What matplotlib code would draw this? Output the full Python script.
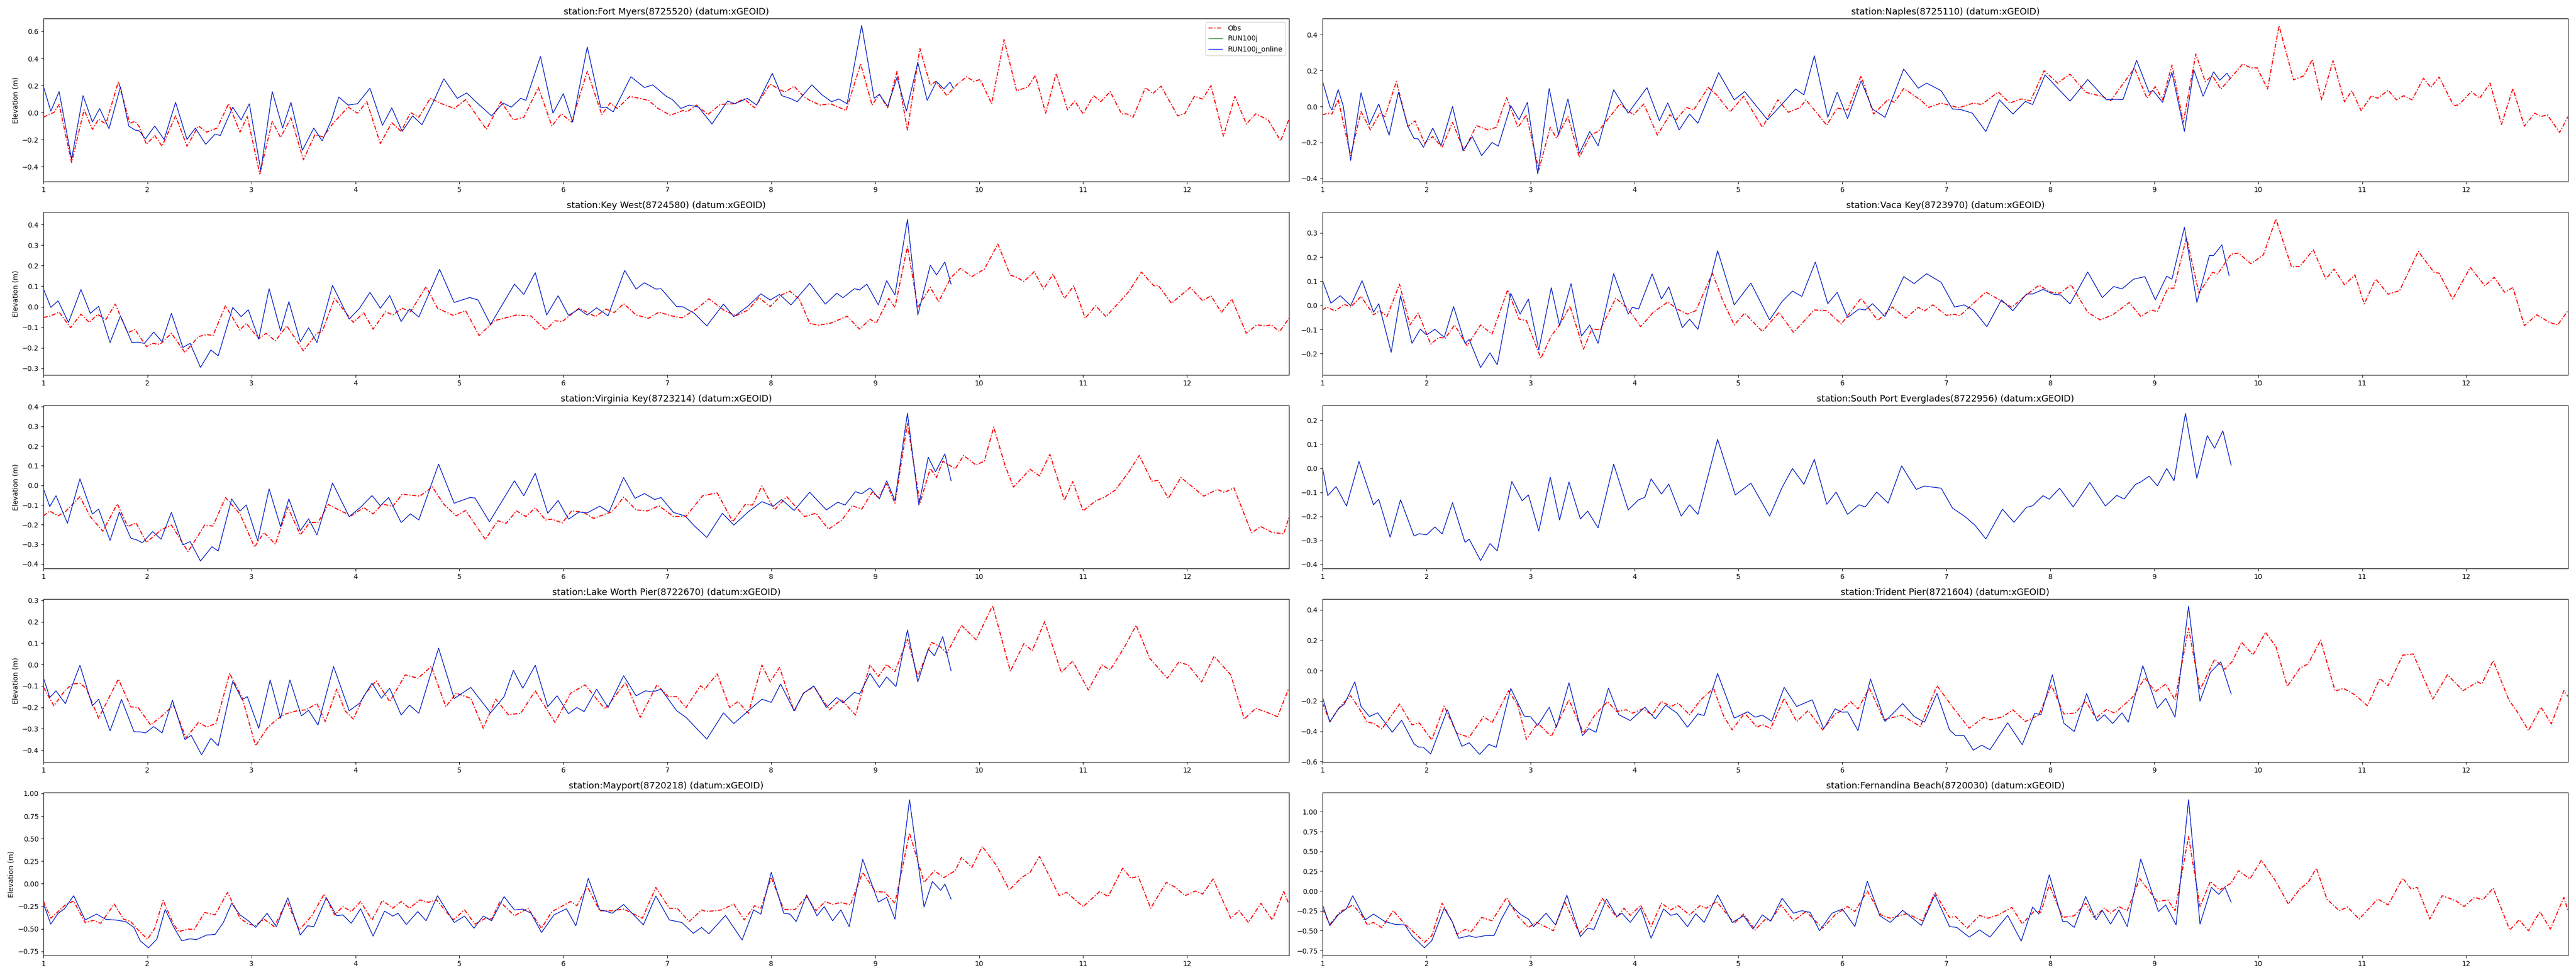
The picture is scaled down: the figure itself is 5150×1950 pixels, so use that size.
import matplotlib
matplotlib.use("Agg")
import matplotlib.pyplot as plt
from matplotlib.ticker import MultipleLocator

# water level, (day, elevation m) turning points
fort_myers_obs = [(1.0,-0.035),(1.05,-0.015),(1.10,0.0),(1.15,0.06),(1.27,-0.37),(1.39,0.02),(1.47,-0.125),(1.53,-0.05),(1.60,-0.085),(1.72,0.23),(1.83,-0.08),(1.88,-0.065),(1.92,-0.105),(1.99,-0.235),(2.07,-0.17),(2.14,-0.25),(2.27,-0.025),(2.38,-0.25),(2.49,-0.10),(2.57,-0.145),(2.67,-0.115),(2.78,0.065),(2.89,-0.145),(2.96,-0.03),(3.08,-0.455),(3.20,-0.065),(3.28,-0.185),(3.38,-0.04),(3.50,-0.35),(3.61,-0.165),(3.69,-0.18),(3.79,-0.075),(3.93,0.04),(4.02,-0.005),(4.11,0.08),(4.24,-0.23),(4.35,-0.075),(4.44,-0.14),(4.53,0.0),(4.61,-0.035),(4.72,0.105),(4.83,0.065),(4.95,0.03),(5.06,0.095),(5.26,-0.125),(5.40,0.08),(5.52,-0.055),(5.62,-0.035),(5.76,0.185),(5.89,-0.10),(5.98,-0.01),(6.08,-0.07),(6.23,0.305),(6.37,-0.015),(6.45,0.07),(6.52,0.03),(6.64,0.12),(6.76,0.10),(6.82,0.09),(6.91,0.03),(7.03,-0.02),(7.15,0.015),(7.19,0.005),(7.28,0.055),(7.39,-0.015),(7.51,0.06),(7.63,0.065),(7.74,0.10),(7.84,0.035),(7.99,0.21),(8.13,0.15),(8.22,0.195),(8.31,0.12),(8.37,0.09),(8.47,0.055),(8.57,0.065),(8.72,0.015),(8.86,0.36),(8.97,0.055),(9.04,0.135),(9.12,0.035),(9.21,0.305),(9.31,-0.13),(9.43,0.475),(9.53,0.20),(9.58,0.23),(9.69,0.125),(9.79,0.21),(9.88,0.265),(9.95,0.23),(10.01,0.245),(10.12,0.065),(10.24,0.54),(10.36,0.16),(10.47,0.19),(10.54,0.275),(10.64,-0.005),(10.74,0.29),(10.85,0.02),(10.92,0.085),(11.00,-0.01),(11.10,0.125),(11.17,0.08),(11.26,0.155),(11.37,-0.01),(11.42,-0.01),(11.48,-0.035),(11.60,0.185),(11.67,0.14),(11.75,0.195),(11.91,-0.025),(11.98,-0.005),(12.07,0.12),(12.15,0.10),(12.23,0.20),(12.35,-0.175),(12.46,0.12),(12.57,-0.085),(12.66,-0.01),(12.78,-0.055),(12.90,-0.21),(12.98,-0.05)]
fort_myers_run = [(1.0,0.19),(1.07,0.01),(1.15,0.155),(1.27,-0.345),(1.38,0.125),(1.47,-0.07),(1.54,0.03),(1.63,-0.12),(1.74,0.19),(1.82,-0.10),(1.88,-0.13),(1.92,-0.135),(1.98,-0.195),(2.07,-0.10),(2.16,-0.20),(2.27,0.075),(2.38,-0.20),(2.46,-0.115),(2.56,-0.235),(2.65,-0.16),(2.70,-0.17),(2.82,0.04),(2.90,-0.055),(2.98,0.065),(3.09,-0.43),(3.20,0.155),(3.30,-0.115),(3.38,0.075),(3.49,-0.28),(3.60,-0.115),(3.68,-0.21),(3.77,-0.055),(3.84,0.115),(3.93,0.055),(4.02,0.065),(4.14,0.18),(4.26,-0.095),(4.35,0.035),(4.45,-0.14),(4.55,-0.025),(4.64,-0.09),(4.76,0.095),(4.85,0.25),(4.98,0.105),(5.07,0.145),(5.18,0.065),(5.31,-0.025),(5.42,0.07),(5.50,0.04),(5.59,0.105),(5.64,0.09),(5.78,0.415),(5.90,-0.005),(6.00,0.14),(6.09,-0.07),(6.23,0.485),(6.36,0.035),(6.41,0.04),(6.48,0.005),(6.65,0.265),(6.78,0.185),(6.86,0.205),(6.99,0.12),(7.05,0.095),(7.13,0.03),(7.21,0.055),(7.30,0.04),(7.43,-0.085),(7.58,0.085),(7.65,0.065),(7.77,0.105),(7.86,0.055),(8.01,0.29),(8.10,0.125),(8.18,0.105),(8.25,0.08),(8.39,0.205),(8.49,0.13),(8.58,0.08),(8.65,0.10),(8.73,0.065),(8.87,0.645),(8.99,0.105),(9.04,0.135),(9.12,0.045),(9.21,0.26),(9.30,0.01),(9.41,0.37),(9.50,0.09),(9.59,0.23),(9.66,0.175),(9.72,0.225),(9.75,0.18)]

naples_obs = [(1.0,-0.046),(1.05,-0.037),(1.09,-0.042),(1.15,0.039),(1.27,-0.273),(1.37,-0.028),(1.46,-0.13),(1.55,-0.037),(1.60,-0.056),(1.71,0.139),(1.82,-0.111),(1.89,-0.08),(1.98,-0.204),(2.06,-0.167),(2.15,-0.227),(2.25,-0.088),(2.36,-0.245),(2.48,-0.106),(2.59,-0.13),(2.67,-0.116),(2.77,0.049),(2.88,-0.116),(2.96,-0.046),(3.08,-0.352),(3.19,-0.116),(3.25,-0.176),(3.36,-0.056),(3.47,-0.282),(3.58,-0.156),(3.65,-0.139),(3.86,0.014),(3.99,-0.046),(4.09,0.014),(4.22,-0.159),(4.34,-0.046),(4.40,-0.074),(4.50,-0.005),(4.57,-0.019),(4.71,0.106),(4.79,0.065),(4.92,-0.03),(5.05,0.057),(5.23,-0.116),(5.38,0.037),(5.48,-0.032),(5.59,-0.007),(5.65,0.037),(5.85,-0.104),(5.95,-0.009),(6.05,-0.019),(6.18,0.171),(6.30,-0.042),(6.44,0.039),(6.50,0.023),(6.59,0.10),(6.75,0.037),(6.83,-0.005),(6.95,0.019),(7.12,-0.007),(7.26,0.019),(7.34,0.011),(7.50,0.081),(7.61,0.019),(7.72,0.042),(7.81,0.032),(7.94,0.199),(8.07,0.13),(8.19,0.18),(8.34,0.079),(8.50,0.056),(8.58,0.032),(8.81,0.213),(8.93,0.046),(9.01,0.111),(9.08,0.037),(9.17,0.231),(9.28,-0.088),(9.40,0.292),(9.49,0.139),(9.56,0.171),(9.64,0.097),(9.72,0.148),(9.85,0.236),(9.93,0.215),(9.99,0.215),(10.09,0.097),(10.20,0.449),(10.34,0.148),(10.44,0.171),(10.52,0.261),(10.61,0.037),(10.72,0.255),(10.83,0.026),(10.90,0.088),(10.99,-0.023),(11.09,0.06),(11.15,0.046),(11.25,0.09),(11.33,0.037),(11.40,0.06),(11.48,0.037),(11.59,0.157),(11.66,0.106),(11.74,0.164),(11.88,0.005),(11.93,0.009),(12.05,0.083),(12.13,0.046),(12.23,0.13),(12.34,-0.10),(12.45,0.10),(12.56,-0.109),(12.66,-0.037),(12.72,-0.056),(12.78,-0.046),(12.90,-0.144),(12.98,-0.056)]
naples_run = [(1.0,0.139),(1.07,0.0),(1.09,-0.019),(1.15,0.094),(1.20,0.0),(1.27,-0.30),(1.37,0.076),(1.45,-0.10),(1.54,0.014),(1.64,-0.16),(1.73,0.08),(1.82,-0.11),(1.88,-0.178),(1.92,-0.18),(1.97,-0.227),(2.06,-0.12),(2.14,-0.218),(2.25,0.0),(2.35,-0.245),(2.44,-0.167),(2.53,-0.273),(2.63,-0.20),(2.69,-0.22),(2.81,0.005),(2.89,-0.074),(2.97,0.023),(3.07,-0.375),(3.18,0.10),(3.27,-0.157),(3.36,0.042),(3.47,-0.26),(3.57,-0.139),(3.65,-0.218),(3.80,0.093),(3.94,-0.037),(4.12,0.105),(4.24,-0.079),(4.32,0.02),(4.43,-0.13),(4.53,-0.042),(4.61,-0.093),(4.81,0.188),(4.96,0.037),(5.06,0.083),(5.28,-0.074),(5.42,0.014),(5.55,0.097),(5.63,0.065),(5.73,0.282),(5.86,-0.06),(5.95,0.08),(6.05,-0.067),(6.18,0.143),(6.29,-0.014),(6.41,-0.06),(6.59,0.208),(6.73,0.102),(6.81,0.13),(6.95,0.088),(7.06,-0.014),(7.14,-0.017),(7.25,-0.037),(7.38,-0.139),(7.51,0.037),(7.64,-0.042),(7.76,0.028),(7.83,0.011),(7.95,0.176),(8.07,0.102),(8.19,0.03),(8.36,0.15),(8.54,0.037),(8.62,0.04),(8.70,0.039),(8.83,0.257),(8.95,0.079),(8.99,0.088),(9.08,0.023),(9.17,0.19),(9.29,-0.139),(9.38,0.204),(9.47,0.057),(9.57,0.193),(9.63,0.146),(9.70,0.185),(9.73,0.157)]

key_west_obs = [(1.0,-0.052),(1.07,-0.044),(1.15,-0.026),(1.26,-0.102),(1.36,-0.036),(1.44,-0.076),(1.52,-0.037),(1.60,-0.062),(1.69,0.013),(1.81,-0.127),(1.88,-0.11),(1.99,-0.194),(2.05,-0.178),(2.12,-0.183),(2.23,-0.129),(2.36,-0.222),(2.49,-0.145),(2.57,-0.135),(2.63,-0.14),(2.75,0.005),(2.89,-0.113),(2.95,-0.08),(3.07,-0.156),(3.14,-0.129),(3.23,-0.166),(3.34,-0.093),(3.50,-0.214),(3.63,-0.129),(3.68,-0.121),(3.80,0.041),(3.88,-0.011),(3.98,-0.076),(4.08,-0.029),(4.17,-0.109),(4.29,-0.024),(4.36,-0.04),(4.45,-0.007),(4.53,-0.024),(4.68,0.098),(4.79,-0.007),(4.94,-0.042),(5.06,-0.019),(5.19,-0.14),(5.34,-0.067),(5.43,-0.056),(5.55,-0.04),(5.69,-0.045),(5.83,-0.113),(5.92,-0.068),(5.99,-0.072),(6.15,-0.007),(6.31,-0.048),(6.41,-0.011),(6.49,-0.028),(6.58,0.015),(6.70,-0.04),(6.82,-0.056),(6.92,-0.026),(7.04,-0.044),(7.14,-0.054),(7.28,-0.011),(7.40,0.039),(7.54,-0.015),(7.66,-0.044),(7.78,-0.015),(7.88,0.045),(7.99,0.001),(8.10,0.058),(8.18,0.076),(8.27,0.037),(8.37,-0.08),(8.45,-0.09),(8.57,-0.08),(8.73,-0.046),(8.85,-0.109),(8.95,-0.06),(9.01,-0.08),(9.13,0.041),(9.19,-0.003),(9.31,0.293),(9.41,-0.003),(9.53,0.094),(9.61,0.025),(9.73,0.143),(9.82,0.187),(9.93,0.147),(10.05,0.183),(10.18,0.305),(10.30,0.153),(10.35,0.147),(10.43,0.123),(10.53,0.171),(10.62,0.086),(10.71,0.159),(10.82,0.041),(10.91,0.102),(11.02,-0.056),(11.12,0.005),(11.22,-0.048),(11.36,0.029),(11.44,0.074),(11.56,0.169),(11.68,0.102),(11.72,0.106),(11.85,0.017),(12.03,0.094),(12.15,0.029),(12.23,0.054),(12.33,-0.028),(12.43,0.037),(12.57,-0.129),(12.67,-0.088),(12.75,-0.093),(12.81,-0.088),(12.89,-0.121),(12.98,-0.056)]
key_west_run = [(1.0,0.086),(1.07,-0.003),(1.14,0.029),(1.24,-0.076),(1.36,0.084),(1.45,-0.032),(1.53,0.002),(1.64,-0.174),(1.74,-0.044),(1.85,-0.174),(1.91,-0.172),(1.97,-0.178),(2.06,-0.123),(2.14,-0.17),(2.23,-0.032),(2.34,-0.198),(2.41,-0.178),(2.51,-0.295),(2.61,-0.21),(2.68,-0.239),(2.82,-0.003),(2.90,-0.048),(2.97,-0.015),(3.07,-0.157),(3.17,0.088),(3.28,-0.117),(3.36,0.025),(3.47,-0.17),(3.55,-0.102),(3.63,-0.174),(3.78,0.104),(3.94,-0.06),(4.04,-0.007),(4.14,0.07),(4.24,-0.007),(4.33,0.055),(4.44,-0.072),(4.52,-0.011),(4.61,-0.05),(4.81,0.182),(4.95,0.021),(5.10,0.045),(5.18,0.033),(5.30,-0.086),(5.53,0.11),(5.62,0.06),(5.73,0.166),(5.84,-0.04),(5.95,0.054),(6.05,-0.042),(6.15,-0.011),(6.23,-0.04),(6.32,-0.005),(6.43,-0.044),(6.59,0.177),(6.70,0.086),(6.78,0.117),(6.89,0.086),(6.94,0.088),(7.09,0.001),(7.15,0.0),(7.26,-0.032),(7.38,-0.093),(7.54,0.013),(7.64,-0.048),(7.78,0.005),(7.90,0.063),(7.99,0.033),(8.08,0.06),(8.19,0.009),(8.37,0.114),(8.52,0.013),(8.63,0.066),(8.69,0.044),(8.80,0.088),(8.85,0.082),(8.92,0.11),(9.03,0.009),(9.11,0.127),(9.19,0.058),(9.31,0.425),(9.41,-0.04),(9.53,0.202),(9.59,0.155),(9.67,0.218),(9.73,0.11)]

vaca_key_obs = [(1.0,-0.019),(1.04,-0.007),(1.12,-0.023),(1.21,0.004),(1.27,-0.007),(1.37,0.037),(1.49,-0.039),(1.55,-0.022),(1.62,-0.046),(1.74,0.088),(1.84,-0.081),(1.92,-0.032),(2.04,-0.16),(2.12,-0.132),(2.18,-0.136),(2.27,-0.081),(2.39,-0.167),(2.52,-0.081),(2.63,-0.119),(2.78,0.064),(2.89,-0.057),(2.96,-0.063),(3.10,-0.219),(3.20,-0.126),(3.28,-0.081),(3.38,-0.003),(3.51,-0.181),(3.59,-0.098),(3.67,-0.101),(3.82,0.03),(3.94,-0.015),(4.06,-0.088),(4.18,-0.029),(4.32,0.014),(4.41,-0.015),(4.51,-0.036),(4.59,-0.022),(4.75,0.133),(4.85,0.019),(4.96,-0.081),(5.06,-0.032),(5.23,-0.108),(5.39,-0.029),(5.53,-0.112),(5.73,-0.019),(5.85,-0.022),(5.99,-0.077),(6.18,0.03),(6.34,-0.063),(6.48,-0.007),(6.61,-0.053),(6.73,-0.008),(6.79,-0.023),(6.87,0.002),(7.00,-0.041),(7.08,-0.037),(7.13,-0.043),(7.38,0.055),(7.51,0.023),(7.63,-0.008),(7.76,0.04),(7.89,0.083),(8.01,0.054),(8.09,0.05),(8.20,0.085),(8.36,-0.029),(8.48,-0.06),(8.60,-0.039),(8.76,0.012),(8.87,-0.046),(8.97,-0.019),(9.03,-0.026),(9.13,0.071),(9.19,0.071),(9.31,0.281),(9.43,0.05),(9.56,0.137),(9.61,0.13),(9.74,0.212),(9.81,0.216),(9.93,0.172),(10.05,0.209),(10.17,0.357),(10.32,0.159),(10.40,0.161),(10.53,0.23),(10.65,0.109),(10.73,0.15),(10.83,0.085),(10.93,0.126),(11.02,0.006),(11.13,0.109),(11.25,0.046),(11.36,0.061),(11.54,0.223),(11.69,0.137),(11.74,0.133),(11.87,0.026),(12.04,0.157),(12.18,0.081),(12.27,0.116),(12.37,0.054),(12.45,0.074),(12.56,-0.084),(12.68,-0.039),(12.80,-0.07),(12.88,-0.081),(12.98,-0.022)]
vaca_key_run = [(1.0,0.102),(1.08,0.009),(1.17,0.04),(1.27,-0.001),(1.38,0.102),(1.49,-0.028),(1.54,0.007),(1.66,-0.194),(1.75,0.04),(1.86,-0.157),(1.94,-0.098),(2.00,-0.122),(2.08,-0.099),(2.17,-0.132),(2.26,-0.005),(2.37,-0.157),(2.41,-0.141),(2.52,-0.257),(2.61,-0.196),(2.68,-0.246),(2.81,0.05),(2.90,-0.036),(2.98,0.026),(3.08,-0.184),(3.20,0.073),(3.28,-0.084),(3.39,0.09),(3.49,-0.127),(3.57,-0.081),(3.65,-0.157),(3.80,0.131),(3.94,-0.036),(3.98,-0.008),(4.04,-0.015),(4.17,0.13),(4.26,0.026),(4.33,0.077),(4.46,-0.092),(4.53,-0.057),(4.61,-0.099),(4.80,0.226),(4.96,0.002),(5.12,0.092),(5.30,-0.06),(5.42,0.016),(5.52,0.059),(5.61,0.037),(5.74,0.179),(5.86,0.007),(5.95,0.054),(6.05,-0.05),(6.16,-0.015),(6.22,-0.019),(6.29,0.007),(6.41,-0.046),(6.59,0.119),(6.69,0.09),(6.81,0.131),(6.95,0.095),(7.08,-0.007),(7.17,0.002),(7.26,-0.019),(7.39,-0.088),(7.53,0.023),(7.64,-0.022),(7.77,0.047),(7.83,0.047),(7.93,0.066),(8.03,0.046),(8.10,0.043),(8.19,0.006),(8.36,0.138),(8.50,0.032),(8.61,0.078),(8.69,0.068),(8.80,0.108),(8.91,0.119),(9.01,0.023),(9.12,0.121),(9.17,0.108),(9.29,0.323),(9.41,0.012),(9.53,0.206),(9.57,0.206),(9.65,0.25),(9.72,0.123)]

virginia_key_obs = [(1.0,-0.155),(1.06,-0.131),(1.14,-0.155),(1.21,-0.134),(1.35,-0.058),(1.45,-0.159),(1.57,-0.233),(1.71,-0.094),(1.81,-0.21),(1.89,-0.191),(1.99,-0.29),(2.13,-0.227),(2.23,-0.202),(2.39,-0.337),(2.55,-0.202),(2.63,-0.207),(2.75,-0.062),(2.89,-0.146),(3.03,-0.314),(3.12,-0.24),(3.23,-0.299),(3.35,-0.111),(3.47,-0.252),(3.56,-0.189),(3.64,-0.189),(3.74,-0.097),(3.84,-0.125),(3.96,-0.155),(4.08,-0.113),(4.17,-0.145),(4.26,-0.096),(4.36,-0.106),(4.45,-0.045),(4.62,-0.055),(4.74,-0.008),(4.85,-0.096),(4.97,-0.155),(5.06,-0.128),(5.25,-0.275),(5.37,-0.18),(5.45,-0.193),(5.55,-0.13),(5.64,-0.159),(5.73,-0.114),(5.83,-0.176),(5.89,-0.172),(5.99,-0.191),(6.08,-0.13),(6.19,-0.136),(6.29,-0.168),(6.47,-0.134),(6.58,-0.06),(6.70,-0.125),(6.81,-0.13),(6.92,-0.104),(7.06,-0.159),(7.18,-0.157),(7.34,-0.053),(7.48,-0.038),(7.63,-0.185),(7.75,-0.097),(7.82,-0.10),(7.91,-0.003),(8.03,-0.125),(8.15,-0.058),(8.32,-0.159),(8.43,-0.142),(8.55,-0.223),(8.68,-0.176),(8.78,-0.104),(8.87,-0.121),(8.97,-0.035),(9.03,-0.062),(9.11,0.008),(9.19,-0.091),(9.31,0.315),(9.43,-0.091),(9.53,0.086),(9.59,0.04),(9.65,0.123),(9.77,0.084),(9.85,0.152),(9.97,0.103),(10.05,0.124),(10.14,0.296),(10.25,0.099),(10.33,-0.009),(10.49,0.082),(10.58,0.048),(10.68,0.158),(10.82,-0.076),(10.90,0.019),(11.00,-0.13),(11.12,-0.079),(11.20,-0.062),(11.31,-0.024),(11.44,0.069),(11.54,0.152),(11.66,0.021),(11.72,0.025),(11.82,-0.066),(11.94,0.04),(12.04,-0.003),(12.16,-0.055),(12.29,-0.021),(12.36,-0.036),(12.45,-0.013),(12.62,-0.241),(12.71,-0.21),(12.82,-0.24),(12.93,-0.246),(12.98,-0.163)]
virginia_key_run = [(1.0,-0.019),(1.06,-0.108),(1.12,-0.053),(1.23,-0.193),(1.35,0.033),(1.47,-0.146),(1.53,-0.121),(1.64,-0.28),(1.73,-0.136),(1.84,-0.269),(1.90,-0.278),(1.95,-0.292),(2.05,-0.235),(2.13,-0.274),(2.23,-0.138),(2.34,-0.303),(2.41,-0.286),(2.51,-0.385),(2.62,-0.312),(2.68,-0.334),(2.81,-0.069),(2.89,-0.131),(2.95,-0.10),(3.06,-0.282),(3.17,-0.018),(3.28,-0.21),(3.36,-0.069),(3.47,-0.231),(3.55,-0.17),(3.63,-0.252),(3.78,0.012),(3.94,-0.159),(4.05,-0.111),(4.16,-0.052),(4.24,-0.104),(4.32,-0.062),(4.44,-0.189),(4.53,-0.145),(4.61,-0.176),(4.80,0.108),(4.95,-0.091),(5.10,-0.062),(5.15,-0.064),(5.29,-0.185),(5.53,0.023),(5.62,-0.053),(5.73,0.061),(5.85,-0.142),(5.95,-0.077),(6.05,-0.172),(6.15,-0.136),(6.23,-0.14),(6.35,-0.106),(6.44,-0.136),(6.58,0.04),(6.69,-0.066),(6.78,-0.042),(6.88,-0.072),(6.94,-0.062),(7.06,-0.138),(7.17,-0.155),(7.26,-0.206),(7.38,-0.265),(7.53,-0.142),(7.64,-0.202),(7.78,-0.134),(7.91,-0.083),(8.02,-0.106),(8.10,-0.072),(8.22,-0.128),(8.37,-0.035),(8.53,-0.125),(8.64,-0.086),(8.71,-0.10),(8.81,-0.032),(8.87,-0.043),(8.95,-0.013),(9.04,-0.069),(9.11,0.023),(9.19,-0.077),(9.31,0.367),(9.42,-0.10),(9.51,0.143),(9.58,0.069),(9.67,0.16),(9.73,0.023)]

south_port_obs = []
south_port_run = [(1.0,0.0),(1.05,-0.114),(1.13,-0.076),(1.23,-0.157),(1.35,0.028),(1.49,-0.152),(1.54,-0.129),(1.65,-0.287),(1.75,-0.131),(1.88,-0.282),(1.93,-0.272),(2.00,-0.277),(2.08,-0.244),(2.15,-0.273),(2.25,-0.143),(2.37,-0.308),(2.41,-0.295),(2.52,-0.384),(2.61,-0.313),(2.68,-0.344),(2.82,-0.055),(2.92,-0.135),(2.98,-0.111),(3.08,-0.261),(3.19,-0.037),(3.28,-0.215),(3.37,-0.057),(3.48,-0.211),(3.55,-0.178),(3.65,-0.248),(3.80,0.017),(3.94,-0.173),(4.04,-0.131),(4.10,-0.121),(4.16,-0.044),(4.26,-0.107),(4.33,-0.066),(4.45,-0.199),(4.53,-0.152),(4.61,-0.192),(4.80,0.12),(4.97,-0.111),(5.12,-0.062),(5.30,-0.199),(5.42,-0.08),(5.52,-0.001),(5.63,-0.067),(5.73,0.037),(5.85,-0.15),(5.94,-0.099),(6.05,-0.192),(6.16,-0.152),(6.22,-0.161),(6.33,-0.099),(6.44,-0.145),(6.57,0.01),(6.71,-0.088),(6.79,-0.074),(6.95,-0.083),(7.06,-0.166),(7.18,-0.201),(7.28,-0.239),(7.38,-0.294),(7.54,-0.17),(7.65,-0.225),(7.77,-0.163),(7.83,-0.156),(7.93,-0.114),(7.99,-0.129),(8.09,-0.083),(8.22,-0.161),(8.38,-0.059),(8.53,-0.157),(8.64,-0.113),(8.71,-0.128),(8.82,-0.067),(8.87,-0.057),(8.95,-0.033),(9.03,-0.073),(9.12,-0.001),(9.19,-0.052),(9.30,0.228),(9.41,-0.042),(9.51,0.136),(9.58,0.083),(9.66,0.156),(9.74,0.012)]

lake_worth_obs = [(1.0,-0.107),(1.10,-0.193),(1.21,-0.119),(1.28,-0.091),(1.35,-0.087),(1.41,-0.111),(1.53,-0.251),(1.72,-0.068),(1.84,-0.198),(1.91,-0.201),(2.03,-0.283),(2.14,-0.24),(2.25,-0.19),(2.37,-0.343),(2.49,-0.271),(2.57,-0.292),(2.66,-0.275),(2.79,-0.041),(2.91,-0.154),(3.04,-0.38),(3.15,-0.298),(3.24,-0.258),(3.32,-0.232),(3.44,-0.216),(3.52,-0.212),(3.63,-0.183),(3.71,-0.267),(3.82,-0.115),(3.90,-0.216),(3.98,-0.255),(4.09,-0.138),(4.20,-0.076),(4.33,-0.173),(4.48,-0.048),(4.60,-0.064),(4.73,-0.009),(4.87,-0.197),(4.97,-0.134),(5.11,-0.158),(5.23,-0.298),(5.35,-0.162),(5.47,-0.234),(5.59,-0.228),(5.73,-0.123),(5.92,-0.271),(6.07,-0.134),(6.21,-0.095),(6.40,-0.208),(6.60,-0.084),(6.74,-0.247),(6.90,-0.095),(7.01,-0.15),(7.09,-0.15),(7.18,-0.201),(7.32,-0.099),(7.36,-0.115),(7.48,-0.043),(7.60,-0.201),(7.68,-0.173),(7.78,-0.228),(7.91,-0.002),(7.99,-0.081),(8.08,-0.013),(8.22,-0.22),(8.31,-0.134),(8.41,-0.103),(8.56,-0.212),(8.67,-0.162),(8.81,-0.236),(8.95,-0.002),(9.03,-0.056),(9.11,0.0),(9.19,-0.033),(9.31,0.119),(9.41,-0.056),(9.54,0.104),(9.62,0.086),(9.69,0.053),(9.83,0.184),(9.97,0.116),(10.13,0.276),(10.30,-0.031),(10.43,0.098),(10.51,0.065),(10.63,0.201),(10.79,-0.037),(10.90,0.016),(11.05,-0.119),(11.18,-0.002),(11.26,-0.025),(11.40,0.084),(11.51,0.184),(11.64,0.03),(11.81,-0.064),(11.92,0.012),(12.01,-0.002),(12.14,-0.081),(12.26,0.039),(12.42,-0.048),(12.55,-0.255),(12.66,-0.205),(12.75,-0.22),(12.87,-0.244),(12.98,-0.109)]
lake_worth_run = [(1.0,-0.064),(1.06,-0.154),(1.12,-0.123),(1.21,-0.183),(1.35,-0.003),(1.47,-0.193),(1.53,-0.162),(1.64,-0.31),(1.75,-0.163),(1.87,-0.314),(1.93,-0.315),(1.98,-0.32),(2.06,-0.29),(2.14,-0.32),(2.24,-0.167),(2.36,-0.351),(2.42,-0.331),(2.52,-0.422),(2.61,-0.345),(2.68,-0.38),(2.82,-0.078),(2.91,-0.164),(2.96,-0.15),(3.07,-0.298),(3.18,-0.072),(3.28,-0.251),(3.37,-0.072),(3.48,-0.24),(3.55,-0.214),(3.64,-0.283),(3.79,-0.009),(3.94,-0.216),(4.04,-0.181),(4.16,-0.087),(4.25,-0.158),(4.33,-0.111),(4.44,-0.236),(4.52,-0.19),(4.61,-0.228),(4.80,0.077),(4.95,-0.159),(5.11,-0.107),(5.30,-0.226),(5.43,-0.15),(5.52,-0.027),(5.61,-0.111),(5.73,-0.003),(5.85,-0.197),(5.94,-0.146),(6.05,-0.23),(6.13,-0.201),(6.20,-0.22),(6.32,-0.115),(6.43,-0.201),(6.58,-0.052),(6.70,-0.146),(6.79,-0.123),(6.86,-0.128),(6.94,-0.115),(7.09,-0.216),(7.18,-0.247),(7.28,-0.298),(7.38,-0.349),(7.54,-0.226),(7.64,-0.276),(7.78,-0.216),(7.91,-0.162),(8.00,-0.177),(8.09,-0.091),(8.22,-0.216),(8.31,-0.134),(8.41,-0.10),(8.53,-0.201),(8.63,-0.154),(8.69,-0.179),(8.80,-0.13),(8.85,-0.138),(8.95,-0.041),(9.04,-0.107),(9.11,-0.058),(9.20,-0.103),(9.31,0.162),(9.41,-0.081),(9.51,0.073),(9.57,0.041),(9.65,0.131),(9.73,-0.029)]

trident_obs = [(1.0,-0.214),(1.07,-0.335),(1.17,-0.236),(1.27,-0.165),(1.35,-0.247),(1.43,-0.34),(1.49,-0.346),(1.57,-0.384),(1.74,-0.22),(1.86,-0.357),(1.93,-0.344),(2.05,-0.456),(2.17,-0.234),(2.29,-0.412),(2.41,-0.439),(2.55,-0.302),(2.63,-0.344),(2.79,-0.132),(2.88,-0.231),(2.96,-0.453),(3.07,-0.346),(3.20,-0.434),(3.37,-0.192),(3.51,-0.412),(3.62,-0.291),(3.74,-0.205),(3.83,-0.269),(3.92,-0.258),(3.98,-0.28),(4.08,-0.252),(4.17,-0.291),(4.26,-0.203),(4.35,-0.236),(4.42,-0.214),(4.53,-0.291),(4.63,-0.198),(4.76,-0.115),(4.86,-0.302),(4.94,-0.39),(5.06,-0.28),(5.18,-0.373),(5.23,-0.355),(5.31,-0.381),(5.44,-0.183),(5.56,-0.335),(5.67,-0.263),(5.81,-0.39),(5.93,-0.285),(5.98,-0.269),(6.08,-0.205),(6.15,-0.252),(6.26,-0.115),(6.40,-0.324),(6.57,-0.293),(6.75,-0.368),(6.91,-0.099),(7.08,-0.258),(7.22,-0.379),(7.36,-0.307),(7.42,-0.324),(7.54,-0.305),(7.64,-0.258),(7.76,-0.335),(7.89,-0.293),(8.01,-0.095),(8.13,-0.285),(8.24,-0.28),(8.34,-0.201),(8.44,-0.313),(8.54,-0.256),(8.62,-0.28),(8.79,-0.176),(8.91,-0.049),(9.01,-0.139),(9.11,-0.088),(9.20,-0.194),(9.33,0.28),(9.44,-0.126),(9.58,0.074),(9.68,0.009),(9.75,0.06),(9.84,0.187),(9.95,0.104),(10.07,0.252),(10.17,0.159),(10.28,-0.104),(10.40,0.016),(10.48,0.044),(10.60,0.201),(10.74,-0.135),(10.82,-0.117),(10.93,-0.159),(11.05,-0.231),(11.17,-0.052),(11.25,-0.099),(11.39,0.102),(11.49,0.11),(11.68,-0.187),(11.82,-0.027),(11.97,-0.132),(12.11,-0.074),(12.15,-0.088),(12.26,0.066),(12.41,-0.192),(12.49,-0.269),(12.60,-0.395),(12.72,-0.241),(12.82,-0.351),(12.94,-0.132),(12.98,-0.17)]
trident_run = [(1.0,-0.176),(1.07,-0.34),(1.15,-0.252),(1.21,-0.22),(1.31,-0.074),(1.37,-0.236),(1.45,-0.302),(1.53,-0.278),(1.67,-0.406),(1.76,-0.327),(1.88,-0.483),(1.92,-0.503),(1.97,-0.505),(2.04,-0.549),(2.20,-0.258),(2.34,-0.499),(2.41,-0.475),(2.51,-0.552),(2.60,-0.486),(2.67,-0.505),(2.81,-0.117),(2.94,-0.30),(3.00,-0.304),(3.07,-0.362),(3.18,-0.241),(3.25,-0.373),(3.37,-0.08),(3.50,-0.428),(3.56,-0.382),(3.63,-0.406),(3.75,-0.115),(3.85,-0.291),(3.96,-0.329),(4.10,-0.241),(4.20,-0.318),(4.30,-0.227),(4.41,-0.28),(4.51,-0.373),(4.61,-0.285),(4.67,-0.296),(4.80,-0.019),(4.96,-0.313),(5.09,-0.271),(5.16,-0.307),(5.23,-0.293),(5.32,-0.333),(5.44,-0.11),(5.56,-0.236),(5.71,-0.192),(5.82,-0.384),(5.93,-0.252),(6.00,-0.274),(6.05,-0.272),(6.15,-0.395),(6.27,-0.055),(6.41,-0.335),(6.58,-0.217),(6.69,-0.302),(6.79,-0.34),(6.91,-0.15),(7.03,-0.39),(7.09,-0.428),(7.17,-0.428),(7.26,-0.524),(7.34,-0.491),(7.42,-0.521),(7.59,-0.344),(7.73,-0.488),(7.85,-0.28),(7.91,-0.291),(8.02,-0.027),(8.13,-0.346),(8.23,-0.401),(8.35,-0.151),(8.45,-0.333),(8.52,-0.291),(8.60,-0.348),(8.69,-0.278),(8.75,-0.34),(8.89,0.033),(9.03,-0.247),(9.11,-0.183),(9.20,-0.307),(9.33,0.425),(9.44,-0.201),(9.54,-0.011),(9.64,0.058),(9.74,-0.154)]

mayport_obs = [(1.0,-0.198),(1.07,-0.383),(1.14,-0.309),(1.21,-0.235),(1.29,-0.193),(1.40,-0.43),(1.48,-0.407),(1.55,-0.439),(1.68,-0.226),(1.77,-0.393),(1.84,-0.42),(1.91,-0.513),(2.00,-0.615),(2.07,-0.494),(2.15,-0.185),(2.25,-0.448),(2.30,-0.531),(2.39,-0.504),(2.45,-0.507),(2.55,-0.319),(2.65,-0.346),(2.77,-0.096),(2.89,-0.383),(2.97,-0.448),(3.04,-0.463),(3.12,-0.393),(3.22,-0.476),(3.34,-0.193),(3.46,-0.513),(3.58,-0.356),(3.70,-0.115),(3.80,-0.346),(3.88,-0.254),(3.96,-0.309),(4.05,-0.198),(4.16,-0.402),(4.26,-0.185),(4.36,-0.272),(4.44,-0.198),(4.52,-0.272),(4.62,-0.18),(4.70,-0.207),(4.78,-0.18),(4.94,-0.402),(5.05,-0.291),(5.15,-0.448),(5.26,-0.378),(5.31,-0.393),(5.39,-0.198),(5.53,-0.356),(5.66,-0.272),(5.79,-0.494),(5.89,-0.309),(6.07,-0.198),(6.13,-0.244),(6.23,-0.031),(6.35,-0.30),(6.47,-0.30),(6.58,-0.281),(6.76,-0.383),(6.89,-0.041),(7.02,-0.272),(7.10,-0.278),(7.21,-0.42),(7.33,-0.291),(7.38,-0.309),(7.52,-0.291),(7.64,-0.226),(7.74,-0.402),(7.84,-0.244),(7.90,-0.272),(8.00,0.07),(8.12,-0.285),(8.23,-0.285),(8.34,-0.143),(8.43,-0.30),(8.52,-0.198),(8.59,-0.23),(8.67,-0.207),(8.76,-0.235),(8.88,0.126),(9.00,-0.087),(9.09,-0.093),(9.19,-0.217),(9.33,0.561),(9.47,0.015),(9.57,0.144),(9.66,0.067),(9.77,0.144),(9.83,0.293),(9.93,0.181),(10.03,0.413),(10.17,0.196),(10.29,-0.069),(10.41,0.07),(10.49,0.126),(10.58,0.302),(10.77,-0.133),(10.84,-0.096),(11.00,-0.254),(11.16,-0.087),(11.24,-0.143),(11.38,0.172),(11.46,0.061),(11.53,0.08),(11.65,-0.272),(11.80,0.015),(11.89,-0.041),(11.98,-0.133),(12.08,-0.081),(12.15,-0.115),(12.25,0.052),(12.42,-0.383),(12.50,-0.30),(12.59,-0.43),(12.71,-0.217),(12.82,-0.402),(12.93,-0.087),(12.98,-0.226)]
mayport_run = [(1.0,-0.226),(1.07,-0.448),(1.14,-0.328),(1.20,-0.281),(1.29,-0.133),(1.40,-0.402),(1.51,-0.337),(1.60,-0.396),(1.69,-0.402),(1.79,-0.42),(1.87,-0.485),(1.93,-0.633),(2.01,-0.711),(2.09,-0.615),(2.17,-0.285),(2.25,-0.476),(2.33,-0.633),(2.41,-0.611),(2.47,-0.62),(2.57,-0.569),(2.65,-0.563),(2.73,-0.43),(2.81,-0.217),(2.89,-0.346),(2.97,-0.411),(3.04,-0.485),(3.15,-0.328),(3.24,-0.476),(3.35,-0.156),(3.47,-0.569),(3.54,-0.467),(3.60,-0.476),(3.72,-0.156),(3.82,-0.356),(3.88,-0.346),(3.96,-0.439),(4.05,-0.278),(4.17,-0.581),(4.28,-0.304),(4.36,-0.359),(4.41,-0.328),(4.49,-0.452),(4.60,-0.309),(4.68,-0.411),(4.79,-0.133),(4.95,-0.43),(5.05,-0.359),(5.14,-0.494),(5.23,-0.359),(5.31,-0.411),(5.43,-0.143),(5.53,-0.291),(5.61,-0.281),(5.69,-0.328),(5.79,-0.541),(5.91,-0.346),(6.03,-0.278),(6.12,-0.467),(6.24,0.059),(6.35,-0.291),(6.41,-0.304),(6.47,-0.328),(6.58,-0.23),(6.77,-0.457),(6.89,-0.137),(7.02,-0.402),(7.14,-0.43),(7.25,-0.55),(7.33,-0.485),(7.40,-0.556),(7.56,-0.352),(7.72,-0.624),(7.83,-0.291),(7.90,-0.337),(8.00,0.126),(8.12,-0.328),(8.18,-0.337),(8.24,-0.42),(8.34,-0.124),(8.44,-0.356),(8.51,-0.254),(8.59,-0.411),(8.67,-0.291),(8.75,-0.476),(8.88,0.27),(9.03,-0.204),(9.11,-0.152),(9.19,-0.393),(9.33,0.931),(9.47,-0.259),(9.55,0.024),(9.63,-0.074),(9.67,-0.004),(9.73,-0.17)]

fernandina_obs = [(1.0,-0.227),(1.07,-0.421),(1.17,-0.259),(1.23,-0.223),(1.29,-0.175),(1.37,-0.291),(1.43,-0.427),(1.49,-0.396),(1.57,-0.463),(1.68,-0.248),(1.79,-0.417),(1.86,-0.497),(1.98,-0.648),(2.05,-0.564),(2.15,-0.154),(2.25,-0.396),(2.29,-0.543),(2.37,-0.486),(2.43,-0.512),(2.53,-0.333),(2.63,-0.375),(2.77,-0.084),(2.88,-0.322),(2.98,-0.459),(3.06,-0.396),(3.22,-0.501),(3.33,-0.133),(3.47,-0.533),(3.57,-0.406),(3.69,-0.091),(3.83,-0.333),(3.90,-0.217),(3.96,-0.307),(4.06,-0.181),(4.16,-0.448),(4.26,-0.154),(4.35,-0.238),(4.42,-0.185),(4.53,-0.301),(4.63,-0.185),(4.69,-0.217),(4.79,-0.133),(4.96,-0.406),(5.05,-0.291),(5.16,-0.491),(5.26,-0.354),(5.31,-0.375),(5.41,-0.175),(5.53,-0.375),(5.65,-0.259),(5.81,-0.469),(5.93,-0.301),(6.05,-0.196),(6.12,-0.259),(6.24,0.0),(6.37,-0.301),(6.46,-0.343),(6.62,-0.286),(6.77,-0.375),(6.89,-0.021),(7.03,-0.333),(7.09,-0.322),(7.20,-0.469),(7.32,-0.307),(7.40,-0.343),(7.50,-0.301),(7.63,-0.206),(7.73,-0.413),(7.85,-0.248),(7.91,-0.269),(7.99,0.078),(8.12,-0.333),(8.23,-0.312),(8.34,-0.154),(8.42,-0.333),(8.52,-0.217),(8.58,-0.28),(8.66,-0.196),(8.74,-0.248),(8.86,0.156),(9.03,-0.133),(9.13,-0.112),(9.20,-0.248),(9.33,0.688),(9.44,-0.196),(9.54,0.12),(9.63,0.015),(9.74,0.099),(9.81,0.257),(9.92,0.152),(10.03,0.387),(10.17,0.12),(10.29,-0.164),(10.40,0.025),(10.48,0.109),(10.56,0.288),(10.66,-0.101),(10.78,-0.248),(10.86,-0.202),(10.97,-0.354),(11.15,-0.101),(11.25,-0.175),(11.39,0.162),(11.47,0.025),(11.53,0.046),(11.65,-0.354),(11.77,-0.059),(11.90,-0.122),(11.98,-0.196),(12.08,-0.08),(12.16,-0.112),(12.26,0.036),(12.42,-0.491),(12.51,-0.364),(12.60,-0.501),(12.71,-0.259),(12.81,-0.48),(12.94,-0.08),(12.98,-0.248)]
fernandina_run = [(1.0,-0.175),(1.07,-0.438),(1.15,-0.301),(1.23,-0.223),(1.29,-0.059),(1.41,-0.364),(1.49,-0.291),(1.60,-0.385),(1.70,-0.421),(1.79,-0.427),(1.86,-0.564),(1.98,-0.716),(2.05,-0.627),(2.17,-0.217),(2.25,-0.396),(2.31,-0.596),(2.41,-0.564),(2.47,-0.585),(2.56,-0.564),(2.65,-0.56),(2.72,-0.354),(2.80,-0.164),(2.90,-0.291),(2.98,-0.354),(3.03,-0.448),(3.15,-0.28),(3.24,-0.427),(3.35,-0.053),(3.48,-0.575),(3.55,-0.469),(3.61,-0.484),(3.73,-0.101),(3.83,-0.322),(3.88,-0.28),(3.96,-0.396),(4.06,-0.217),(4.16,-0.596),(4.28,-0.227),(4.35,-0.307),(4.41,-0.286),(4.51,-0.448),(4.59,-0.286),(4.67,-0.396),(4.80,-0.048),(4.94,-0.396),(5.05,-0.312),(5.14,-0.48),(5.23,-0.301),(5.31,-0.379),(5.42,-0.091),(5.53,-0.28),(5.61,-0.248),(5.69,-0.269),(5.78,-0.501),(5.90,-0.28),(6.00,-0.227),(6.12,-0.448),(6.24,0.124),(6.36,-0.312),(6.46,-0.396),(6.58,-0.244),(6.76,-0.434),(6.89,-0.048),(7.03,-0.448),(7.10,-0.459),(7.22,-0.581),(7.32,-0.491),(7.42,-0.581),(7.59,-0.307),(7.72,-0.632),(7.83,-0.202),(7.89,-0.291),(7.99,0.204),(8.12,-0.385),(8.16,-0.385),(8.23,-0.459),(8.34,-0.069),(8.44,-0.364),(8.50,-0.244),(8.58,-0.417),(8.66,-0.238),(8.74,-0.448),(8.87,0.404),(9.04,-0.259),(9.11,-0.175),(9.21,-0.427),(9.33,1.152),(9.44,-0.417),(9.55,0.046),(9.62,-0.042),(9.68,0.046),(9.74,-0.143)]

station_names = ["Fort Myers", "Naples", "Key West", "Vaca Key", "Virginia Key",
                 "South Port Everglades", "Lake Worth Pier", "Trident Pier",
                 "Mayport", "Fernandina Beach"]
station_ids = ["8725520", "8725110", "8724580", "8723970", "8723214",
               "8722956", "8722670", "8721604", "8720218", "8720030"]
obs_series = [fort_myers_obs, naples_obs, key_west_obs, vaca_key_obs, virginia_key_obs,
              south_port_obs, lake_worth_obs, trident_obs, mayport_obs, fernandina_obs]
run_series = [fort_myers_run, naples_run, key_west_run, vaca_key_run, virginia_key_run,
              south_port_run, lake_worth_run, trident_run, mayport_run, fernandina_run]

# axis limits / tick steps per panel
y_limits = [(-0.511, 0.696), (-0.417, 0.489), (-0.332, 0.461), (-0.288, 0.386),
            (-0.423, 0.406), (-0.417, 0.261), (-0.456, 0.307), (-0.602, 0.472),
            (-0.796, 1.011), (-0.813, 1.242)]
y_steps = [0.2, 0.2, 0.1, 0.1, 0.1, 0.1, 0.1, 0.2, 0.25, 0.25]

fig, axes = plt.subplots(5, 2, figsize=(51.5, 19.5), dpi=100)
fig.subplots_adjust(left=0.0169, right=0.9969, top=0.981, bottom=0.020,
                    wspace=0.027, hspace=0.187)

for i, ax in enumerate(axes.flat):
    obs = obs_series[i]
    run = run_series[i]
    ax.plot([p[0] for p in obs], [p[1] for p in obs], color='red',
            linestyle=(0, (4, 1.6, 1, 1.6)), linewidth=1.5, label='Obs')
    ax.plot([p[0] for p in run], [p[1] for p in run], 'g-', linewidth=0.8, label='RUN100j')
    ax.plot([p[0] for p in run], [p[1] for p in run], 'b-', linewidth=0.8, label='RUN100j_online')
    ax.set_title("station:%s(%s) (datum:xGEOID)" % (station_names[i], station_ids[i]), fontsize=13)
    ax.set_xlim(1.0, 12.98)
    ax.set_xticks(range(1, 13))
    ax.set_ylim(*y_limits[i])
    ax.yaxis.set_major_locator(MultipleLocator(y_steps[i]))
    if i % 2 == 0:
        ax.set_ylabel("Elevation (m)")
    if i == 0:
        ax.legend(loc='upper right')

fig.savefig("out.png")
